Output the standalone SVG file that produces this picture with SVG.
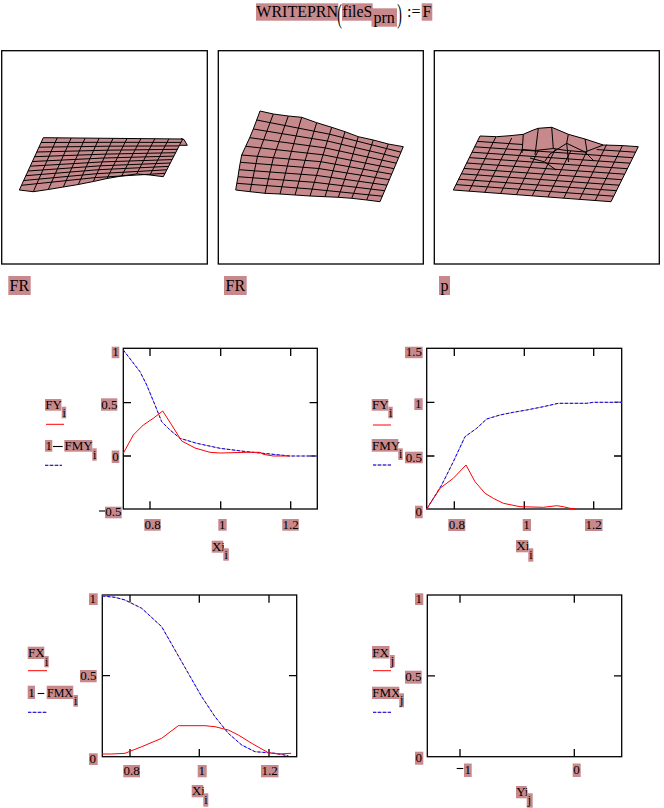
<svg xmlns="http://www.w3.org/2000/svg" width="664" height="808" viewBox="0 0 664 808">
<style>
.hl{fill:#c8898c}
.t{font-family:"Liberation Serif",serif;font-size:13px;fill:#000}
.s{font-family:"Liberation Serif",serif;font-size:12px;fill:#000}
.b{font-family:"Liberation Serif",serif;font-size:16px;fill:#000}
.p{font-family:"Liberation Serif",serif;font-size:27px;fill:#000}
.fr{fill:none;stroke:#000;stroke-width:1.3}
.tk{stroke:#000;stroke-width:1.3;fill:none}
.mn{stroke:#000;stroke-width:1.1;fill:none}
.red{fill:none;stroke:#f00;stroke-width:1}
.blb{fill:none;stroke:#c49a98;stroke-width:1}
.blu{fill:none;stroke:#00f;stroke-width:1;stroke-dasharray:3 2}
.sf{fill:#c6898c;stroke:none}
.so{fill:none;stroke:#000;stroke-width:1;stroke-linejoin:round}
.gr{fill:none;stroke:#000;stroke-width:1}
</style>
<rect width="664" height="808" fill="#fff"/>

<g id="title">
<rect class="hl" x="256" y="3.3" width="82.3" height="17.4"/>
<text class="b" x="256.3" y="17">WRITEPRN</text>
<text class="p" x="337.3" y="22.5" textLength="4.6" lengthAdjust="spacingAndGlyphs">(</text>
<rect class="hl" x="342" y="3.3" width="30.7" height="17.4"/>
<text class="b" x="342.3" y="17">fileS</text>
<rect class="hl" x="371.5" y="8.3" width="25.5" height="18.4"/>
<text class="b" x="373.5" y="23">prn</text>
<text class="p" x="397.3" y="22.5" textLength="4.6" lengthAdjust="spacingAndGlyphs">)</text>
<text class="b" x="407" y="16.5">:=</text>
<rect class="hl" x="421.7" y="3.3" width="10.6" height="17.4"/>
<text class="b" x="422.4" y="17">F</text>
</g>

<g id="surface1">
<rect class="fr" x="1.7" y="50.7" width="205.6" height="213.3"/>
<polygon class="sf" points="43.3,137.7 182.7,139 163.3,176.7 150,175 136.7,174 121.7,176 107,178.5 93.3,181.5 78.3,184.5 63.3,187 48.3,189.5 33.3,191.7 19.3,190"/>
<polygon class="sf" points="181,138.5 184,139.5 187.3,145.3 180,145.3"/>
<path class="gr" d="M57.2,137.8L33.3,191.7M71.2,138L48.3,189.5M85.1,138.1L63.3,187M99.1,138.2L78.3,184.5M113,138.4L93.3,181.5M127,138.5L107,178.5M140.9,138.6L121.7,176M154.8,138.7L136.7,174M168.8,138.9L150,175
M41.1,142.5L111.2,142.3L180.9,142.4M38.9,147.2L109.4,146.2L179.2,145.9M36.8,152L107.6,150.2L177.4,149.3M34.6,156.7L105.8,154.1L175.6,152.7M32.4,161.5L104,158L173.9,156.1M30.2,166.2L102.3,161.9L172.1,159.6M28,171L100.5,165.8L170.3,163M25.8,175.7L98.7,169.7L168.6,166.4M23.7,180.5L96.9,173.7L166.8,169.8M21.5,185.3L95.1,177.6L165.1,173.3
M181,138.5L184,139.5L187.3,145.3L180,145.3"/>
<polygon class="so" points="43.3,137.7 182.7,139 163.3,176.7 150,175 136.7,174 121.7,176 107,178.5 93.3,181.5 78.3,184.5 63.3,187 48.3,189.5 33.3,191.7 19.3,190"/>
<rect class="hl" x="8.3" y="276" width="22.4" height="19"/>
<text class="b" x="9.6" y="291">FR</text>
</g>

<g id="surface2">
<rect class="fr" x="218.3" y="50.7" width="205" height="213.3"/>
<polygon class="sf" points="260,111 273.3,114 288.3,116 301.7,117.3 316.7,122.7 331.7,127.3 345,131.7 358.3,136.7 373.3,140 388.3,144 403.3,146.7 380,201.7 366.7,200 351.7,198.3 338.3,197.3 325,196.7 310,196 295,195 280,194 265,193.3 250,191.7 235.7,190 236.8,183.3 238,176.7 239,169.7 240.3,162.3 241.7,155 245.7,146.3 249.7,137.7 253.3,129 256.7,120"/>
<path class="gr" d="M273.3,114L257.5,156.3L250,191.7M288.3,116L273.4,157.7L265,193.3M301.7,117.3L289.2,159L280,194M316.7,122.7L305.1,160.4L295,195M331.7,127.3L320.9,161.7L310,196M345,131.7L335.1,164.2L325,196.7M358.3,136.7L349.2,166.7L338.3,197.3M373.3,140L363.4,169.2L351.7,198.3M388.3,144L377.5,171.7L366.7,200
M256.7,120L329.5,134.2L401,152.2M253.3,129L327.4,141L398.7,157.7M249.7,137.7L325.2,147.9L396.3,163.2M245.7,146.3L323,154.8L394,168.7M241.7,155L320.9,161.7L391.7,174.2M240.3,162.3L318.7,168.5L389.3,179.7M239,169.7L316.5,175.4L387,185.2M238,176.7L314.3,182.3L384.7,190.7M236.8,183.3L312.2,189.1L382.3,196.2"/>
<polygon class="so" points="260,111 273.3,114 288.3,116 301.7,117.3 316.7,122.7 331.7,127.3 345,131.7 358.3,136.7 373.3,140 388.3,144 403.3,146.7 380,201.7 366.7,200 351.7,198.3 338.3,197.3 325,196.7 310,196 295,195 280,194 265,193.3 250,191.7 235.7,190 236.8,183.3 238,176.7 239,169.7 240.3,162.3 241.7,155 245.7,146.3 249.7,137.7 253.3,129 256.7,120"/>
<rect class="hl" x="224" y="276" width="22.7" height="19"/>
<text class="b" x="225.5" y="291">FR</text>
</g>

<g id="surface3">
<rect class="fr" x="434.3" y="50.7" width="225" height="213.3"/>
<polygon class="sf" points="480,136 496.7,136.7 510,135.7 523.3,134.3 533.3,130 538.3,128.3 551.7,127.3 558.3,130 568.3,134.3 585,139 603.3,145 622.5,145.6 638.3,146.7 611,201.7 453.3,190"/>
<path class="gr" d="M495.8,137.1L469.1,191.2M511.7,138.1L484.8,192.3M527.5,139.2L500.6,193.5M543.3,140.3L516.4,194.7M559.2,141.4L532.2,195.9M575,142.4L547.9,197M590.8,143.5L563.7,198.2M606.6,144.6L579.5,199.4M622.5,145.6L595.2,200.5
M477.3,141.4L635.6,152.2M474.7,146.8L632.8,157.7M472,152.2L630.1,163.2M469.3,157.6L627.4,168.7M466.7,163L624.7,174.2M464,168.4L621.9,179.7M461.3,173.8L619.2,185.2M458.6,179.2L616.5,190.7M456,184.6L613.7,196.2"/>
<polygon class="sf" points="523.3,134.3 533.3,130 538.3,128.3 551.7,127.3 558.3,130 568.3,134.3 585,139 603.3,145 596,150 585,152 566.7,150.5 553.3,148.5 535,150.5 522.5,149.5"/>
<path class="gr" d="M523.3,134.3L522,153M538.3,128.3L535,155M551.7,127.3L553.3,148.5M568.3,134.3L566.7,143.3M566.7,143.3L550,154L545,161M566.7,143.3L585,152L594,161M566.7,143.3L568.5,162M585,139L587,151M522.5,149.5L535,150.5L553.3,148.5L566.7,150.5L585,152L603.3,145M530,158L545,162L556,170"/>
<polygon class="so" points="480,136 496.7,136.7 510,135.7 523.3,134.3 533.3,130 538.3,128.3 551.7,127.3 558.3,130 568.3,134.3 585,139 603.3,145 622.5,145.6 638.3,146.7 611,201.7 453.3,190"/>
<rect class="hl" x="439" y="276" width="11" height="19"/>
<text class="b" x="440.5" y="291">p</text>
</g>

<g id="plot1">
<rect class="fr" x="123.3" y="348.3" width="194" height="160.7"/>
<path class="tk" d="M150,348.3V356M220.7,348.3V356M290.7,348.3V356M150,509V501.3M220.7,509V501.3M290.7,509V501.3M123.3,402.7H131M123.3,456H131M317.3,402.7H309.6M317.3,456H309.6"/>
<polyline class="blb" points="123.3,350 140,371.7 146.7,385 155,405 161.7,421.7 170,430 180,438.3 196.7,443.3 220,448.3 246.7,451.7 270,454 290,456 317.3,456"/>
<polyline class="blu" points="123.3,350 140,371.7 146.7,385 155,405 161.7,421.7 170,430 180,438.3 196.7,443.3 220,448.3 246.7,451.7 270,454 290,456 317.3,456"/>
<polyline class="red" points="123.3,453.3 133.3,435 143.3,425 153.3,418.3 162.7,411 171.7,425 181.7,441 195,448 210,452.3 220,453 246.7,452.3 260,452.3 263.3,454.3 273.3,456 290,456"/>
<rect class="hl" x="111.7" y="346.7" width="7.6" height="11.5"/><text class="t" x="112.2" y="356.3">1</text>
<rect class="hl" x="101" y="398.3" width="16.3" height="12.4"/><text class="t" x="101.2" y="408.5">0.5</text>
<rect class="hl" x="111.7" y="450.5" width="7.6" height="12.5"/><text class="t" x="112.2" y="460.8">0</text>
<path class="mn" d="M99,511H105"/>
<rect class="hl" x="105" y="506.7" width="16.7" height="11.6"/><text class="t" x="105.3" y="516.3">0.5</text>
<rect class="hl" x="144.3" y="519" width="16.4" height="11.7"/><text class="t" x="144.5" y="528.8">0.8</text>
<rect class="hl" x="218.3" y="519" width="8.4" height="11.7"/><text class="t" x="219" y="528.8">1</text>
<rect class="hl" x="282.2" y="519" width="16.6" height="11.7"/><text class="t" x="282.4" y="528.8">1.2</text>
<rect class="hl" x="211.7" y="540.7" width="11.6" height="12"/><text class="t" x="211.9" y="550.5">Xi</text>
<rect class="hl" x="223.3" y="548.3" width="5.5" height="12.4"/><text class="s" x="224.5" y="558.5">i</text>
<rect class="hl" x="45" y="399" width="16.4" height="11.7"/><text class="t" x="45.2" y="409">FY</text>
<rect class="hl" x="61.7" y="406.7" width="4.5" height="11.6"/><text class="s" x="62.5" y="416.5">i</text>
<path class="red" d="M46,424.3H64"/>
<rect class="hl" x="45" y="440" width="7.3" height="11.7"/><text class="t" x="45.5" y="450">1</text>
<path class="mn" d="M53,446.5H62.7"/>
<rect class="hl" x="64.3" y="440" width="28" height="11.7"/><text class="t" x="64.5" y="450">FMY</text>
<rect class="hl" x="92.3" y="448.3" width="4.4" height="12.4"/><text class="s" x="92.9" y="458.5">i</text>
<path class="blb" d="M45,465.3H62"/><path class="blu" d="M45,465.3H62"/>
</g>

<g id="plot2">
<rect class="fr" x="426.7" y="348.3" width="195" height="160.7"/>
<path class="tk" d="M454.3,348.3V356M524.3,348.3V356M593.7,348.3V356M454.3,509V501.3M524.3,509V501.3M593.7,509V501.3M426.7,402.3H434.4M426.7,456H434.4M621.7,402.3H614M621.7,456H614"/>
<polyline class="blb" points="426.7,509 441.7,485 453.3,461.7 465,436.7 476.7,428.3 486.7,419 500,415 513.3,412.3 526.7,410 543.3,406.7 558.3,403.3 586.7,403.3 593.3,402.3 621.7,402.3"/>
<polyline class="blu" points="426.7,509 441.7,485 453.3,461.7 465,436.7 476.7,428.3 486.7,419 500,415 513.3,412.3 526.7,410 543.3,406.7 558.3,403.3 586.7,403.3 593.3,402.3 621.7,402.3"/>
<polyline class="red" points="426.7,509 440,488.3 453.3,478.3 466,465 475,481.7 485,493.3 493.3,498.3 503.3,503.3 520,506.7 543.3,507.3 556.7,505.7 563.3,506.7 570,508.3 576.7,509"/>
<rect class="hl" x="405" y="346.7" width="17.7" height="11.5"/><text class="t" x="405.7" y="356.3">1.5</text>
<rect class="hl" x="414.3" y="398.3" width="8.4" height="11.7"/><text class="t" x="415" y="408">1</text>
<rect class="hl" x="405" y="451.7" width="17.7" height="11.6"/><text class="t" x="405.7" y="461.5">0.5</text>
<rect class="hl" x="415" y="505.7" width="7.7" height="12.6"/><text class="t" x="415.4" y="516">0</text>
<rect class="hl" x="448.3" y="519" width="17" height="12"/><text class="t" x="448.8" y="529">0.8</text>
<rect class="hl" x="522.7" y="519" width="8.3" height="12"/><text class="t" x="523.3" y="529">1</text>
<rect class="hl" x="585" y="519" width="17.5" height="12"/><text class="t" x="585.5" y="529">1.2</text>
<rect class="hl" x="516" y="540" width="12.3" height="12.3"/><text class="t" x="516.3" y="550.2">Xi</text>
<rect class="hl" x="528.3" y="548.3" width="5" height="13.4"/><text class="s" x="529.2" y="558.5">i</text>
<rect class="hl" x="371.7" y="399" width="16.6" height="11.7"/><text class="t" x="372" y="409">FY</text>
<rect class="hl" x="388.3" y="406.7" width="4.4" height="11.6"/><text class="s" x="389" y="416.5">i</text>
<path class="red" d="M373,425H391"/>
<rect class="hl" x="371.7" y="439" width="26.6" height="12.7"/><text class="t" x="372" y="449.5">FMY</text>
<rect class="hl" x="398.3" y="448.3" width="4.4" height="11.7"/><text class="s" x="399" y="458.3">i</text>
<path class="blb" d="M373,465H391"/><path class="blu" d="M373,465H391"/>
</g>

<g id="plot3">
<rect class="fr" x="102.3" y="595" width="194.4" height="161.7"/>
<path class="tk" d="M130,595V602.7M199.3,595V602.7M269,595V602.7M130,756.7V749M199.3,756.7V749M269,756.7V749M102.3,675.7H110M296.7,675.7H289"/>
<polyline class="blb" points="102.3,596 115,597.3 125,600 141.7,608.3 161.7,626.7 175,650 188.3,673.3 201.7,696.7 215,716.7 228.3,733.3 241.7,745 255,751.7 275,753.3 288.3,755.7"/>
<polyline class="blu" points="102.3,596 115,597.3 125,600 141.7,608.3 161.7,626.7 175,650 188.3,673.3 201.7,696.7 215,716.7 228.3,733.3 241.7,745 255,751.7 275,753.3 288.3,755.7"/>
<polyline class="red" points="102.3,754 111.7,754 125,753.3 141.7,746.7 161.7,738.3 178.3,725.7 205,725.7 215,726.7 228.3,730 238.3,735 251.7,743.3 268.3,752.7 278.3,754 291,753.3"/>
<rect class="hl" x="89" y="593.3" width="8.7" height="11.7"/><text class="t" x="89.6" y="603">1</text>
<rect class="hl" x="80" y="670" width="16.7" height="12.3"/><text class="t" x="80.3" y="680">0.5</text>
<rect class="hl" x="89" y="753.3" width="8.7" height="11.7"/><text class="t" x="89.6" y="763">0</text>
<rect class="hl" x="123.3" y="765" width="16.7" height="12.3"/><text class="t" x="123.6" y="775">0.8</text>
<rect class="hl" x="197.7" y="765" width="9" height="12.3"/><text class="t" x="198.4" y="775">1</text>
<rect class="hl" x="261" y="765" width="17.5" height="12.3"/><text class="t" x="261.5" y="775">1.2</text>
<rect class="hl" x="191.7" y="785" width="11.6" height="12.3"/><text class="t" x="191.9" y="795">Xi</text>
<rect class="hl" x="203.3" y="793.3" width="5" height="13.4"/><text class="s" x="204.2" y="803.5">i</text>
<rect class="hl" x="27.7" y="646.7" width="16.6" height="12.3"/><text class="t" x="28" y="656.5">FX</text>
<rect class="hl" x="44.3" y="656" width="4.4" height="11.3"/><text class="s" x="45" y="665.5">i</text>
<path class="red" d="M28,670.7H47"/>
<rect class="hl" x="27.7" y="685.7" width="7.3" height="13.3"/><text class="t" x="28.2" y="696.5">1</text>
<path class="mn" d="M37.7,693.5H44.3"/>
<rect class="hl" x="46.7" y="685.7" width="26.6" height="13.3"/><text class="s" x="47" y="696.5">FMX</text>
<rect class="hl" x="73.3" y="695" width="4.7" height="11.7"/><text class="s" x="74" y="705">i</text>
<path class="blb" d="M28,712.3H47"/><path class="blu" d="M28,712.3H47"/>
</g>

<g id="plot4">
<rect class="fr" x="427.3" y="595" width="194.4" height="161.7"/>
<path class="tk" d="M460,595V602.7M574.3,595V602.7M460,756.7V749M574.3,756.7V749M427.3,675.8H435M621.7,675.8H614"/>
<rect class="hl" x="415" y="593.3" width="8.3" height="11.7"/><text class="t" x="415.6" y="603">1</text>
<rect class="hl" x="405" y="670.7" width="16.7" height="13"/><text class="t" x="405.3" y="681">0.5</text>
<rect class="hl" x="415" y="751.7" width="8.3" height="13"/><text class="t" x="415.6" y="762">0</text>
<path class="mn" d="M456.7,768.5H463.3"/>
<rect class="hl" x="464" y="763.5" width="7.7" height="13.5"/><text class="t" x="464.4" y="774">1</text>
<rect class="hl" x="572.7" y="763.5" width="8" height="13.5"/><text class="t" x="573.2" y="774">0</text>
<rect class="hl" x="516" y="786" width="10.7" height="12.3"/><text class="t" x="516.2" y="796">Yi</text>
<rect class="hl" x="526.7" y="793.3" width="6" height="14.4"/><text class="s" x="527.8" y="803.5">j</text>
<rect class="hl" x="372" y="646" width="17.5" height="12.5"/><text class="t" x="372.3" y="656.5">FX</text>
<rect class="hl" x="390" y="655" width="4.7" height="12.3"/><text class="s" x="390.8" y="664.5">j</text>
<path class="red" d="M373,670.7H391"/>
<rect class="hl" x="372" y="686.7" width="27.3" height="12.3"/><text class="t" x="372.3" y="696.5">FMX</text>
<rect class="hl" x="399.3" y="693.3" width="4.7" height="14"/><text class="s" x="400.1" y="703.5">j</text>
<path class="blb" d="M373,712.3H391"/><path class="blu" d="M373,712.3H391"/>
</g>

<g id="connectors"></g>
</svg>
